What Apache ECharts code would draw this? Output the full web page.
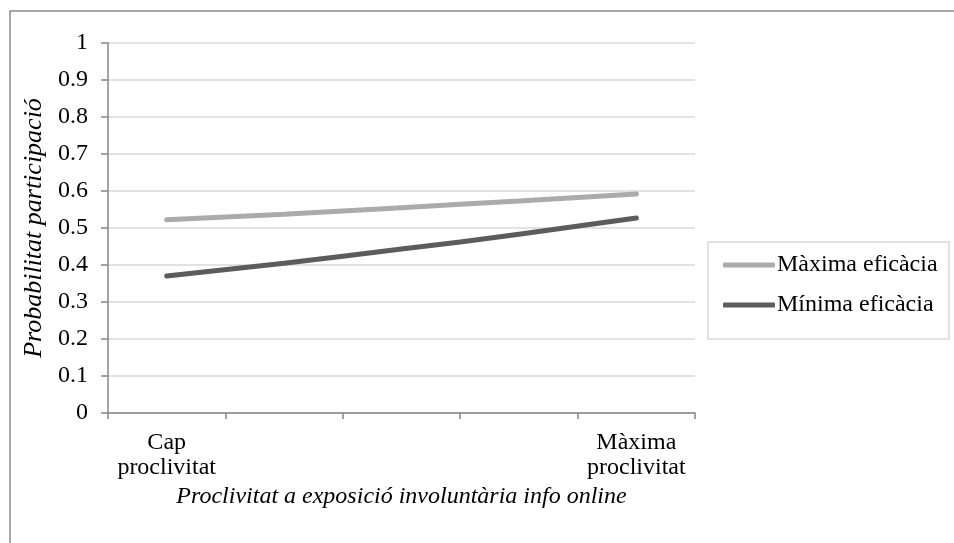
<!DOCTYPE html>
<html><head><meta charset="utf-8">
<script src="https://cdn.jsdelivr.net/npm/echarts@6/dist/echarts.min.js"></script>
<style>html,body{margin:0;padding:0;background:#fff}#c{width:954px;height:543px}</style>
</head><body><div id="c"></div>
<script>
const categories = ['Cap\nproclivitat', '', '', '', 'Màxima\nproclivitat'];
const maxEficacia = [0.522, 0.537, 0.555, 0.573, 0.592];
const minEficacia = [0.370, 0.405, 0.443, 0.483, 0.527];
const seriesNames = ['Màxima eficàcia', 'Mínima eficàcia'];
const yAxisName = 'Probabilitat participació';
const xAxisName = 'Proclivitat a exposició involuntària info online';

const font = '"Liberation Serif", "Times New Roman", serif';
const chart = echarts.init(document.getElementById('c'), null, {renderer: 'canvas'});
chart.setOption({
  backgroundColor: '#fff',
  animation: false,
  graphic: [
    {type: 'rect', shape: {x: 10, y: 11, width: 2000, height: 2000}, style: {fill: 'none', stroke: '#8a8a8a', lineWidth: 1.5}, silent: true, z: -1},
    {type: 'rect', shape: {x: 708, y: 242, width: 241, height: 97}, style: {fill: 'none', stroke: '#d9d9d9', lineWidth: 1.5}, silent: true, z: -1}
  ],
  grid: {left: 108, right: 259, top: 43, bottom: 130},
  legend: {
    orient: 'vertical', left: 718, top: 247,
    itemWidth: 52, itemHeight: 5, itemGap: 14, icon: 'roundRect',
    textStyle: {fontFamily: font, fontSize: 24, color: '#000', lineHeight: 26, padding: [0, 0, 0, -3]},
    data: seriesNames
  },
  xAxis: {
    type: 'category', data: categories, boundaryGap: true,
    name: xAxisName, nameLocation: 'middle', nameGap: 70,
    nameTextStyle: {fontFamily: font, fontSize: 24, fontStyle: 'italic', color: '#000'},
    axisLine: {lineStyle: {color: '#868686', width: 1.5}},
    axisTick: {show: true, length: 6, lineStyle: {color: '#868686', width: 1.5}, interval: 0},
    axisLabel: {interval: 0, fontFamily: font, fontSize: 24, color: '#000', lineHeight: 25, margin: 17}
  },
  yAxis: {
    type: 'value', min: 0, max: 1, interval: 0.1,
    name: yAxisName, nameLocation: 'middle', nameGap: 60,
    nameTextStyle: {fontFamily: font, fontSize: 26, fontStyle: 'italic', color: '#000'},
    axisLine: {show: true, lineStyle: {color: '#868686', width: 1.5}},
    axisTick: {show: true, length: 7, lineStyle: {color: '#868686', width: 1.5}},
    splitLine: {lineStyle: {color: '#d9d9d9', width: 1.5}},
    axisLabel: {fontFamily: font, fontSize: 24, color: '#000', margin: 20,
      formatter: v => String(Math.round(v * 10) / 10)}
  },
  series: [
    {name: seriesNames[0], type: 'line', data: maxEficacia, smooth: true, showSymbol: false, symbol: 'none',
     lineStyle: {color: '#ababab', width: 5, cap: 'round'}, itemStyle: {color: '#ababab'}},
    {name: seriesNames[1], type: 'line', data: minEficacia, smooth: true, showSymbol: false, symbol: 'none',
     lineStyle: {color: '#5c5c5c', width: 5, cap: 'round'}, itemStyle: {color: '#5c5c5c'}}
  ]
});
</script></body></html>
